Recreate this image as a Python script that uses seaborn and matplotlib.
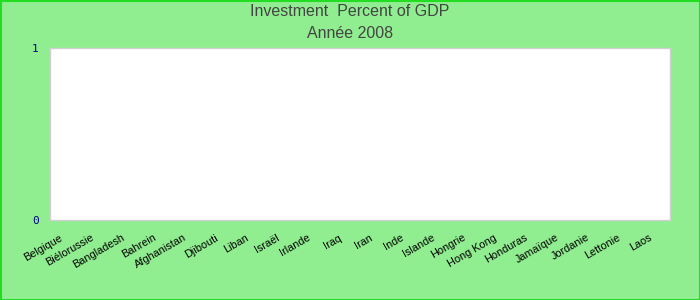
import matplotlib
matplotlib.use("Agg")
import matplotlib.pyplot as plt
import matplotlib.patches as mpatches
import matplotlib.transforms as mtransforms
import seaborn as sns
import pandas as pd

categories = ["Belgique", "Biélorussie", "Bangladesh", "Bahrein", "Afghanistan",
              "Djibouti", "Liban", "Israël", "Irlande", "Iraq", "Iran", "Inde",
              "Islande", "Hongrie", "Hong Kong", "Honduras", "Jamaïque", "Jordanie",
              "Lettonie", "Laos"]
values = [0] * len(categories)
title_line1 = "Investment  Percent of GDP"
title_line2 = "Année 2008"
y_ticks = [0, 1]

sns.set_theme(style="white")
plt.rcParams['font.family'] = ['Liberation Sans', 'DejaVu Sans']

df = pd.DataFrame({"country": categories, "value": values})

fig = plt.figure(figsize=(7, 3), dpi=100)
fig.patch.set_facecolor("#90EE90")
ax = fig.add_axes([50/700, 80/300, 620/700, 172/300])
ax.set_facecolor("white")

sns.barplot(data=df, x="country", y="value", ax=ax, color="#4472C4")

ax.set_ylim(0, 1)
ax.set_yticks(y_ticks)
ax.set_yticklabels([str(t) for t in y_ticks], color="#00008B",
                   family="DejaVu Sans Mono", fontsize=8)
ax.set_xlabel("")
ax.set_ylabel("")
ax.tick_params(axis="both", length=0)
ax.tick_params(axis="y", pad=8)
ax.tick_params(axis="x", pad=9)
offset = mtransforms.ScaledTranslation(-6/100, 0, fig.dpi_scale_trans)
for lbl in ax.get_xticklabels():
    lbl.set_rotation(30)
    lbl.set_ha("right")
    lbl.set_rotation_mode("anchor")
    lbl.set_fontsize(7.8)
    lbl.set_color("black")
    lbl.set_transform(lbl.get_transform() + offset)
for s in ax.spines.values():
    s.set_color("#D0D0D0")
    s.set_linewidth(1)

fig.text(0.5, 1 - 12/300, title_line1, ha="center", va="center",
         fontsize=11.5, color="#444444")
fig.text(0.5, 1 - 33/300, title_line2, ha="center", va="center",
         fontsize=11.5, color="#444444")

fig.patches.append(mpatches.Rectangle((0.5/700, 0.5/300), 699/700, 299/300,
                                      transform=fig.transFigure, fill=False,
                                      edgecolor="#22DD22", linewidth=1.5))

fig.savefig("out.png", dpi=100, facecolor=fig.get_facecolor())
